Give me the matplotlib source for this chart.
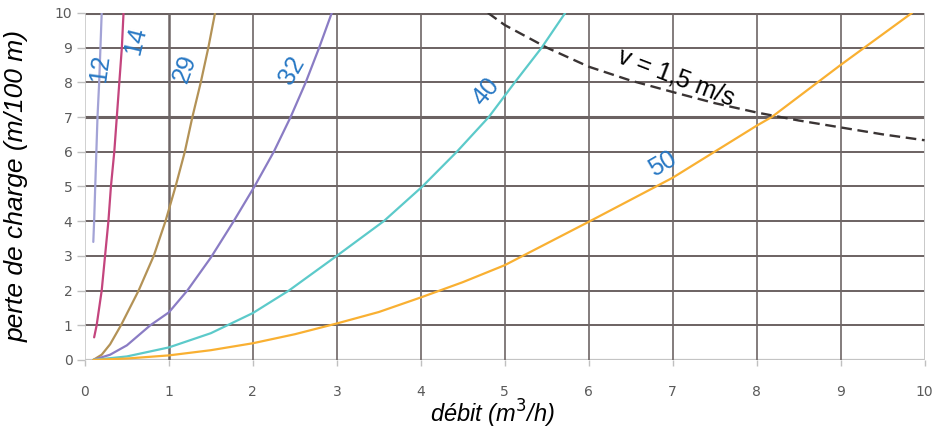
import matplotlib
matplotlib.use("Agg")
import matplotlib.pyplot as plt

plt.rcParams['font.family'] = ['Liberation Sans', 'DejaVu Sans']

# ---- data ----
x12 = [0.10, 0.11, 0.123, 0.15, 0.17, 0.20]
y12 = [3.4, 4.0, 5.0, 7.0, 8.0, 10.0]

x14 = [0.11, 0.14, 0.20, 0.24, 0.28, 0.31, 0.35, 0.38, 0.41, 0.44, 0.46]
y14 = [0.65, 1.0, 2.0, 3.0, 4.0, 5.0, 6.0, 7.0, 8.0, 9.0, 10.0]

x29 = [0.1, 0.2, 0.3, 0.43, 0.64, 0.82, 0.96, 1.08, 1.19, 1.28, 1.38, 1.47, 1.55]
y29 = [0.0, 0.15, 0.45, 1.0, 2.0, 3.0, 4.0, 5.0, 6.0, 7.0, 8.0, 9.0, 10.0]

x32 = [0.1, 0.3, 0.5, 0.78, 1.0, 1.22, 1.5, 1.76, 2.02, 2.25, 2.45, 2.63, 2.79, 2.94]
y32 = [0.0, 0.15, 0.42, 1.0, 1.37, 2.0, 2.95, 3.95, 5.0, 6.0, 7.0, 8.0, 9.0, 10.0]

x40 = [0.1, 0.5, 1.0, 1.5, 2.0, 2.43, 3.0, 3.56, 4.02, 4.43, 4.81, 5.12, 5.44, 5.72]
y40 = [0.0, 0.1, 0.36, 0.77, 1.35, 2.0, 3.0, 4.0, 5.0, 6.0, 7.0, 8.0, 9.0, 10.0]

x50 = [0.1, 0.5, 1.0, 1.5, 2.0, 2.5, 3.0, 3.5, 4.0, 4.5, 5.0, 6.0, 7.0, 8.0, 8.18, 9.0, 9.85]
y50 = [0.0, 0.04, 0.13, 0.28, 0.48, 0.74, 1.05, 1.38, 1.8, 2.24, 2.73, 3.98, 5.25, 6.75, 7.0, 8.5, 10.0]

xv = [4.8, 5.0, 5.5, 6.0, 6.5, 7.0, 7.5, 8.0, 8.5, 9.0, 9.5, 10.0]
yv = [10.0, 9.65, 9.0, 8.45, 8.05, 7.72, 7.4, 7.13, 6.9, 6.7, 6.5, 6.33]

xticks = list(range(0, 11))
yticks = list(range(0, 11))

series = [
    ("12", x12, y12, "#a3a3d6", (0.18, 8.4), 82),
    ("14", x14, y14, "#c4457e", (0.60, 9.2), 76),
    ("29", x29, y29, "#b39256", (1.19, 8.4), 70),
    ("32", x32, y32, "#8a7cc4", (2.46, 8.33), 60),
    ("40", x40, y40, "#5ccaca", (4.78, 7.73), 50),
    ("50", x50, y50, "#f9b032", (6.88, 5.65), 30),
]

fig = plt.figure(figsize=(9.33, 4.30), dpi=100)
ax = fig.add_axes([0.091, 0.163, 0.9, 0.807])
ax.set_xlim(0, 10)
ax.set_ylim(0, 10)

# grid
for yv_ in yticks[1:]:
    lw = 2.2 if yv_ in (7, 10) else 1.4
    ax.axhline(yv_, color="#6b6262", lw=lw, zorder=1)
ax.axhline(0, color="#c4c4c4", lw=1.6, zorder=1)
for xv_ in xticks[1:10]:
    lw = 1.8 if xv_ == 1 else 1.2
    ax.axvline(xv_, color="#6e6666", lw=lw, zorder=1)
ax.axvline(0, color="#c8c8c8", lw=1.2, zorder=1)
ax.axvline(10, color="#c8c8c8", lw=1.4, zorder=1)

for name, xs, ys, col, pos, rot in series:
    ax.plot(xs, ys, color=col, lw=1.6, zorder=3, solid_capstyle='round',
            solid_joinstyle='round')
    ax.text(pos[0], pos[1], name, color="#2878c4", fontsize=18, rotation=rot,
            ha="center", va="center", zorder=4, rotation_mode="anchor")

ax.plot(xv, yv, color="#3a3434", lw=1.7, ls=(0, (4.5, 2.4)), zorder=3)
ax.text(7.04, 8.14, "v = 1,5 m/s", color="black", fontsize=18, rotation=-21,
        ha="center", va="center", zorder=4, rotation_mode="anchor")

for s in ax.spines.values():
    s.set_visible(False)

ax.set_xticks(xticks)
ax.set_yticks(yticks)
ax.tick_params(axis="x", colors="#c0c0c0", labelcolor="#5a5a5a", length=4,
               width=1, pad=14)
ax.tick_params(axis="y", colors="#c0c0c0", labelcolor="#5a5a5a", length=6,
               width=1, pad=3)
for lab in ax.get_xticklabels() + ax.get_yticklabels():
    lab.set_fontfamily("DejaVu Sans")
    lab.set_fontsize(10)

ax.set_xlabel("débit (m$^3$/h)", fontsize=17, style="italic")
ax.xaxis.set_label_coords(0.485, -0.11)
ax.set_ylabel("perte de charge (m/100 m)", fontsize=19, style="italic")
ax.yaxis.set_label_coords(-0.067, 0.5)

fig.savefig("out.png", dpi=100)
